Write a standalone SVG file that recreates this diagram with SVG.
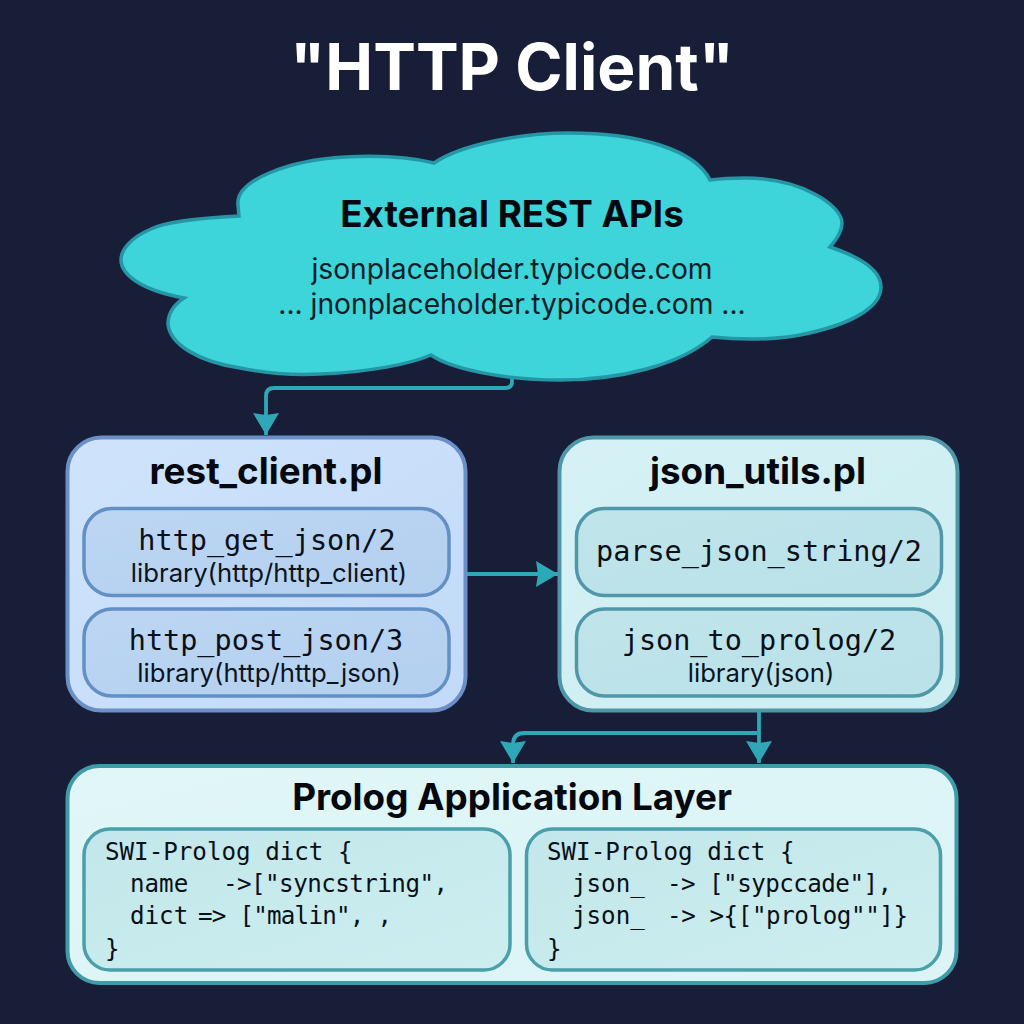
<svg xmlns="http://www.w3.org/2000/svg" width="1024" height="1024" viewBox="0 0 1024 1024">
<style>
.s{font-family:Inter,"Liberation Sans",sans-serif;text-anchor:middle;fill:#05080f}
.t{font-weight:700;font-size:36.800px}
.u{font-size:28.200px;fill:#0a1c26}
.l{font-size:25.700px;fill:#0a1420}
.m{font-family:"DejaVu Sans Mono","Liberation Mono",monospace;fill:#0a0f18}
.f{font-size:28.500px;text-anchor:middle}
.c{font-size:24.200px;white-space:pre}
.conn{fill:none;stroke:#2ea8b6;stroke-width:3.800;stroke-linejoin:round}
.hd{fill:#2ea8b6}
.sb{stroke:#6290c4;stroke-width:3.500;fill:url(#bs)}
.st{stroke:#5098a9;stroke-width:3.500;fill:url(#ts)}
.sp{stroke:#4a9fab;stroke-width:3.500;fill:url(#ps)}
</style>
<defs>
<linearGradient id="bo" x1="0" y1="0" x2="1" y2="1"><stop offset="0" stop-color="#cfe3fb"/><stop offset="1" stop-color="#c2daf8"/></linearGradient>
<linearGradient id="bs" x1="0" y1="0" x2="1" y2="1"><stop offset="0" stop-color="#bcd6f2"/><stop offset="1" stop-color="#b4d0f0"/></linearGradient>
<linearGradient id="to" x1="0" y1="0" x2="1" y2="1"><stop offset="0" stop-color="#d5f1f5"/><stop offset="1" stop-color="#cdeef2"/></linearGradient>
<linearGradient id="ts" x1="0" y1="0" x2="1" y2="1"><stop offset="0" stop-color="#c0e4ea"/><stop offset="1" stop-color="#bae2e9"/></linearGradient>
<linearGradient id="po" x1="0" y1="0" x2="1" y2="1"><stop offset="0" stop-color="#e0f6f7"/><stop offset="1" stop-color="#dcf4f6"/></linearGradient>
<linearGradient id="ps" x1="0" y1="0" x2="1" y2="1"><stop offset="0" stop-color="#c2e7ea"/><stop offset="1" stop-color="#cdeeef"/></linearGradient>
<marker id="a" markerUnits="userSpaceOnUse" markerWidth="24" markerHeight="26" refX="22" refY="13" orient="auto"><path class="hd" d="M0 0L22 13L0 26L2 13Z"/></marker>
</defs>
<rect width="1024" height="1024" fill="#191e38"/>
<text id="title" x="512" y="90" font-family="Inter,'Liberation Sans',sans-serif" font-weight="700" font-size="64" text-anchor="middle" fill="#ffffff">"HTTP Client"</text>
<g id="connectors">
<path class="conn" d="M512 378V382Q512 388 505 388H274Q266 388 266 396V435" marker-end="url(#a)"/>
<path class="conn" d="M467 574H558" marker-end="url(#a)"/>
<path class="conn" d="M759 711V763" marker-end="url(#a)"/>
<path class="conn" d="M757 733H524Q513 733 513 745V763" marker-end="url(#a)"/>
</g>
<g id="cloud">
<path d="M239 216C200 218 165 222 151 229C130 238 121 250 121 260C121 274 140 290 184 298C172 306 168 316 168 324C170 345 200 362 240 368C270 374 300 375 320 374C370 372 410 364 431 355C450 368 500 380 560 380C620 380 680 365 712 337C740 340 775 340 800 335C850 325 881 308 881 287C881 270 860 257 830 247C838 238 842 230 842 223C842 205 800 178 745 178C730 178 718 179 710 180C695 150 640 133 569 133C520 133 460 145 434 163C410 157 380 155 345 157C290 160 235 180 238 205Z" fill="#3dd5da" stroke="#2596a6" stroke-width="3.500"/>
<text class="s t" x="512" y="227">External REST APIs</text>
<text class="s u" x="512" y="279">jsonplaceholder.typicode.com</text>
<text class="s u" x="512" y="314">... jnonplaceholder.typicode.com ...</text>
</g>
<g id="rest_client">
<rect x="67.500" y="437.500" width="398" height="273" rx="34" fill="url(#bo)" stroke="#6b90c8" stroke-width="4"/>
<text class="s t" x="266" y="484">rest_client.pl</text>
<rect class="sb" x="84" y="508.500" width="365" height="87" rx="28"/>
<text class="m f" x="267" y="550">http_get_json/2</text>
<text class="s l" x="269" y="582">library(http/http_client)</text>
<rect class="sb" x="84" y="609" width="365" height="87" rx="28"/>
<text class="m f" x="266" y="650">http_post_json/3</text>
<text class="s l" x="269" y="682">library(http/http_json)</text>
</g>
<g id="json_utils">
<rect x="559.500" y="437.500" width="398" height="273" rx="34" fill="url(#to)" stroke="#4f97a8" stroke-width="4"/>
<text class="s t" x="758" y="484">json_utils.pl</text>
<rect class="st" x="576.500" y="508.500" width="365" height="87" rx="28"/>
<text class="m f" x="759" y="561">parse_json_string/2</text>
<rect class="st" x="576.500" y="609" width="365" height="87" rx="28"/>
<text class="m f" x="759" y="650">json_to_prolog/2</text>
<text class="s l" x="761" y="682">library(json)</text>
</g>
<g id="prolog_app">
<rect x="67.500" y="766" width="889" height="217" rx="32" fill="url(#po)" stroke="#3f9ba8" stroke-width="4"/>
<text class="s t" x="512" y="810">Prolog Application Layer</text>
<rect class="sp" x="84" y="829" width="426" height="141" rx="26"/>
<text class="m c" x="105" y="860">SWI-Prolog dict {</text>
<text class="m c" x="130" y="892">name</text>
<text class="m c" x="223" y="892" textLength="225">-&gt;["syncstring",</text>
<text class="m c" x="130" y="924">dict</text>
<text class="m c" x="198" y="924" textLength="194">=&gt; ["malin", ,</text>
<text class="m c" x="105" y="957">}</text>
<rect class="sp" x="526.500" y="829" width="414" height="141" rx="26"/>
<text class="m c" x="547" y="860">SWI-Prolog dict {</text>
<text class="m c" x="572" y="892">json_</text>
<text class="m c" x="667" y="892" textLength="225">-&gt; ["sypccade"],</text>
<text class="m c" x="572" y="924">json_</text>
<text class="m c" x="667" y="924" textLength="241">-&gt; &gt;{["prolog""]}</text>
<text class="m c" x="547" y="957">}</text>
</g>
</svg>
